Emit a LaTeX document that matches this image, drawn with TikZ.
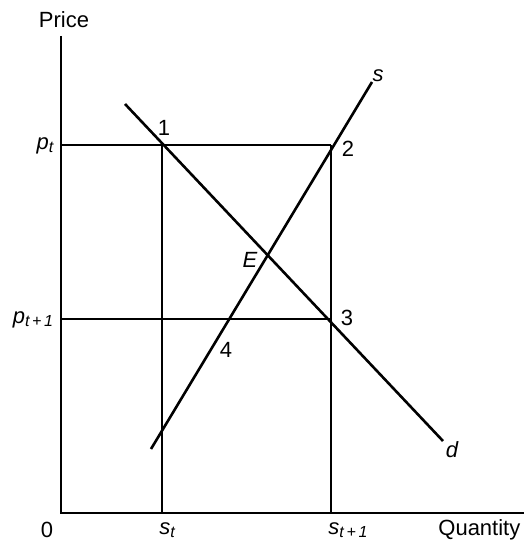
\documentclass[tikz,border=0pt]{standalone}
\usepackage{fontspec}
\setmainfont{Liberation Sans}
\begin{document}
\begin{tikzpicture}[x=0.5pt,y=-0.5pt,
  axisline/.style={line width=0.75pt,black},
  gridline/.style={line width=0.6pt,black},
  curveline/.style={line width=1.3pt,black},
  lbl/.style={inner sep=0pt,font=\fontsize{11}{13}\selectfont},
  ilbl/.style={inner sep=0pt,font=\fontsize{11}{13}\selectfont\itshape}]
\useasboundingbox (0,0) rectangle (524,544);
% points
\coordinate (O) at (61,513);
\coordinate (ytop) at (61,36);
\coordinate (xend) at (524,513);
\coordinate (pt) at (61,145);
\coordinate (pt1) at (61,319);
\coordinate (P1) at (162,145);
\coordinate (P2) at (331,145);
\coordinate (P3) at (331,319);
\coordinate (P4) at (230,319);
\coordinate (st) at (162,513);
\coordinate (st1) at (331,513);
\coordinate (dtop) at (125,104);
\coordinate (dend) at (443,441);
\coordinate (sbot) at (151,449);
\coordinate (stop) at (372,82);
% axes
\draw[axisline] (ytop) -- (O) -- (xend);
% grid lines
\draw[gridline] (pt) -- (P2);
\draw[gridline] (pt1) -- (P3);
\draw[gridline] (P1) -- (st);
\draw[gridline] (P2) -- (st1);
% curves
\draw[curveline] (dtop) -- (dend);
\draw[curveline] (sbot) -- (stop);
% labels
\node[lbl] (price) at (64,20) {Price};
\node[ilbl] (lpt) at (45,146) {p\raisebox{-0.25ex}{\fontsize{8}{9}\selectfont\itshape t}};
\node[ilbl] (lpt1) at (33,320) {p\raisebox{-0.25ex}{\fontsize{8}{9}\selectfont\itshape t\,+\,1}};
\node[lbl] (n1) at (164,128) {1};
\node[lbl] (n2) at (348,149) {2};
\node[lbl] (n3) at (347,318) {3};
\node[lbl] (n4) at (226,350) {4};
\node[ilbl] (nE) at (250,260) {E};
\node[ilbl] (ns) at (378,76) {s};
\node[ilbl] (nd) at (452,450) {d};
\node[lbl] (n0) at (47,530) {0};
\node[ilbl] (nst) at (167,530) {s\raisebox{-0.25ex}{\fontsize{8}{9}\selectfont\itshape t}};
\node[ilbl] (nst1) at (348,530) {s\raisebox{-0.25ex}{\fontsize{8}{9}\selectfont\itshape t\,+\,1}};
\node[lbl,anchor=west] (qty) at (438,530) {Quantity};
\end{tikzpicture}
\end{document}
